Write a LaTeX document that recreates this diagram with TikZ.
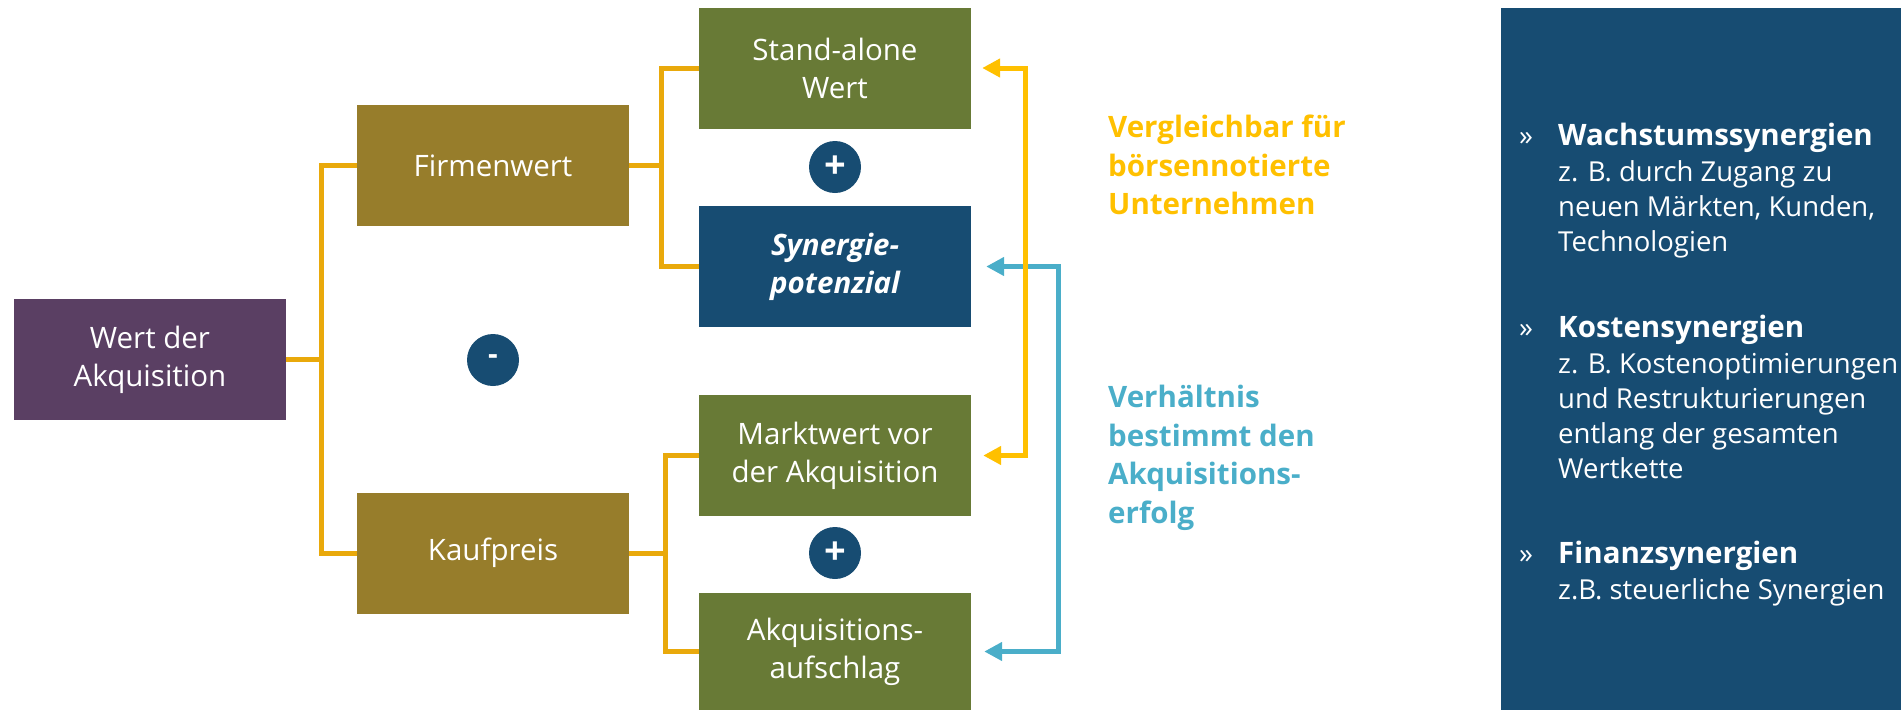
\documentclass[tikz,border=0pt]{standalone}
\usepackage{fontspec}
\setmainfont{Open Sans}
\usetikzlibrary{arrows.meta}
\definecolor{cpurple}{HTML}{5A3F63}
\definecolor{cgold}{HTML}{977D2B}
\definecolor{cgreen}{HTML}{687A36}
\definecolor{cblue}{HTML}{174C72}
\definecolor{cbracket}{HTML}{E9A90B}
\definecolor{cyellow}{HTML}{FFC000}
\definecolor{ccyan}{HTML}{4AAEC9}
\begin{document}
\begin{tikzpicture}[x=1pt,y=-1pt,
  box/.style={rectangle, minimum width=272pt, minimum height=121pt, inner sep=0pt,
    text=white, align=center, font=\fontsize{29.5}{38}\selectfont},
  opcircle/.style={circle, minimum size=52pt, inner sep=0pt, fill=cblue, text=white,
    font=\bfseries\fontsize{30}{30}\selectfont},
  plussign/.style={opcircle, font=\bfseries\fontsize{38}{38}\selectfont},
  bracket/.style={draw=cbracket, line width=5pt, line join=miter},
  yarr/.style={draw=cyellow, line width=5pt, line join=miter,
    {Triangle[length=18pt,width=18pt]}-{Triangle[length=18pt,width=18pt]}},
  carr/.style={draw=ccyan, line width=5pt, line join=miter,
    {Triangle[length=18pt,width=18pt]}-{Triangle[length=18pt,width=18pt]}},
  sidetext/.style={anchor=west, align=left, inner sep=0pt,
    font=\bfseries\fontsize{29.5}{38.5}\selectfont},
  grp/.style={anchor=north west, align=left, inner sep=0pt, text=white,
    font=\fontsize{27.5}{35}\selectfont},
  bul/.style={anchor=base west, inner sep=0pt, text=white, font=\fontsize{28}{30}\selectfont}
]
\useasboundingbox (0,0) rectangle (1901,710);

% right panel
\fill[cblue] (1501,8) rectangle (1901,710);

% boxes
\node[box, fill=cpurple] (w) at (150,359.5) {Wert der\\Akquisition};
\node[box, fill=cgold] (fw) at (493,165.5) {Firmenwert};
\node[box, fill=cgold] (kp) at (493,553) {Kaufpreis};
\node[box, fill=cgreen] (sa) at (835,68) {Stand-alone\\Wert};
\node[box, fill=cblue, font=\bfseries\itshape\fontsize{29.5}{38}\selectfont] (sy) at (835,266.5) {Synergie-\\potenzial};
\node[box, fill=cgreen] (mw) at (835,455.5) {Marktwert vor\\der Akquisition};
\node[box, fill=cgreen, minimum height=117pt] (au) at (835,651.5) {Akquisitions-\\aufschlag};

% operator circles
\node[opcircle] (minus) at (493,360) {-};
\node[plussign] (plusa) at (835,167) {+};
\node[plussign] (plusb) at (835,553) {+};

% brackets
\draw[bracket] (w.east) -- ++(35,0) |- (fw.west);
\draw[bracket] (w.east) -- ++(35,0) |- (kp.west);
\draw[bracket] (fw.east) -- ++(32,0) |- (sa.west);
\draw[bracket] (fw.east) -- ++(32,0) |- (sy.west);
\draw[bracket] (kp.east) -- ++(36,0) |- (mw.west);
\draw[bracket] (kp.east) -- ++(36,0) |- (au.west);

% double arrows
\draw[carr] ([xshift=15pt]sy.east) -- ([xshift=87pt]sy.east) |- ([xshift=13pt]au.east);
\draw[yarr] ([xshift=11pt]sa.east) -- ([xshift=54pt]sa.east) |- ([xshift=12pt]mw.east);

% side texts
\node[sidetext, text=cyellow] (tcomp) at (1108,165) {Vergleichbar für\\börsennotierte\\Unternehmen};
\node[sidetext, text=ccyan] (tratio) at (1108,458) {Verhältnis\\bestimmt den\\Akquisitions-\\erfolg};

% right panel content
\node[bul] (b1) at (1519,145) {»};
\node[bul] (b2) at (1519,337) {»};
\node[bul] (b3) at (1519,563) {»};
\node[grp] (g1) at (1558,123) {{\bfseries\fontsize{29.5}{35}\selectfont Wachstumssynergien}\\[1pt]z. B. durch Zugang zu\\neuen Märkten, Kunden,\\Technologien};
\node[grp] (g2) at (1558,315) {{\bfseries\fontsize{29.5}{35}\selectfont Kostensynergien}\\[1pt]z. B. Kostenoptimierungen\\und Restrukturierungen\\entlang der gesamten\\Wertkette};
\node[grp] (g3) at (1558,541) {{\bfseries\fontsize{29.5}{35}\selectfont Finanzsynergien}\\[1pt]z.B. steuerliche Synergien};
\end{tikzpicture}
\end{document}
